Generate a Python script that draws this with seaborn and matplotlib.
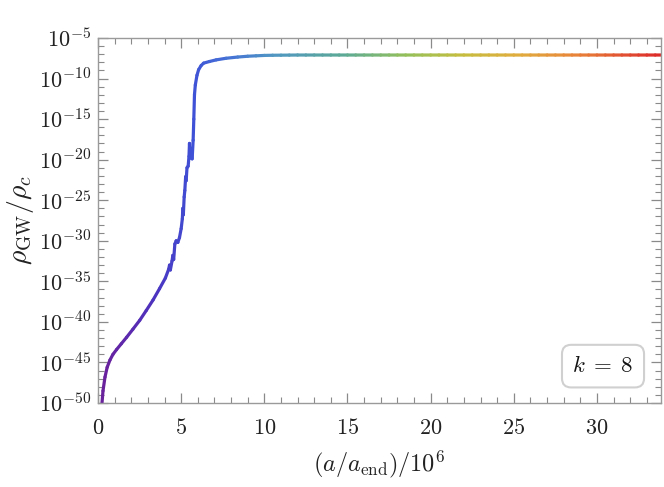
import numpy as np
import matplotlib
matplotlib.use("Agg")
import matplotlib.pyplot as plt
import seaborn as sns
from matplotlib.collections import LineCollection
from matplotlib.colors import LinearSegmentedColormap
from matplotlib.ticker import MultipleLocator, FuncFormatter

sns.set_theme(style="ticks")
plt.rcParams['mathtext.fontset'] = 'cm'
plt.rcParams['font.family'] = ['DejaVu Serif']

# scale factor (a/a_end)/10^6 and log10(rho_GW/rho_c)
a_scaled = [0.24, 0.30, 0.42, 0.55, 0.72, 0.90, 1.12, 1.40, 1.72, 2.10,
            2.51, 2.90, 3.31, 3.70, 4.05, 4.25, 4.30, 4.35, 4.45, 4.50,
            4.55, 4.62, 4.70, 4.80, 4.90, 5.00, 5.07, 5.10, 5.13, 5.18,
            5.22, 5.27, 5.30, 5.35, 5.42, 5.47, 5.50, 5.55, 5.60, 5.66,
            5.72, 5.76, 5.80, 5.85, 5.95, 6.05, 6.20, 6.35, 6.70, 7.10,
            7.70, 8.40, 9.0, 9.5, 10.0, 10.5, 11.0, 11.5, 12.0, 12.5,
            13.0, 13.5, 14.0, 14.5, 15.0, 15.5, 16.0, 16.5, 17.0, 17.5,
            18.0, 18.5, 19.0, 19.5, 20.0, 20.5, 21.0, 21.5, 22.0, 22.5,
            23.0, 23.5, 24.0, 24.5, 25.0, 25.5, 26.0, 26.5, 27.0, 27.5,
            28.0, 28.5, 29.0, 29.5, 30.0, 30.5, 31.0, 31.5, 32.0, 32.5,
            33.0, 33.5, 33.9]
log_rho = [-50.0, -48.5, -46.8, -45.6, -44.7, -44.0, -43.4, -42.7, -41.9, -40.9,
           -39.8, -38.6, -37.3, -35.9, -34.6, -33.5, -33.0, -33.6, -32.5, -31.8,
           -32.3, -30.4, -30.0, -30.2, -29.6, -28.5, -27.3, -26.0, -26.8, -24.6,
           -23.8, -22.1, -22.6, -21.0, -20.8, -19.6, -18.0, -19.8, -18.6, -19.9,
           -17.6, -15.0, -12.0, -10.8, -9.6, -8.9, -8.4, -8.1, -7.9, -7.7,
           -7.5, -7.35, -7.25, -7.2, -7.15, -7.13, -7.12, -7.11, -7.10, -7.10,
           -7.10, -7.10, -7.10, -7.10, -7.10, -7.10, -7.10, -7.10, -7.10, -7.10,
           -7.10, -7.10, -7.10, -7.10, -7.10, -7.10, -7.10, -7.10, -7.10, -7.10,
           -7.10, -7.10, -7.10, -7.10, -7.10, -7.10, -7.10, -7.10, -7.10, -7.10,
           -7.10, -7.10, -7.10, -7.10, -7.10, -7.10, -7.10, -7.10, -7.10, -7.10,
           -7.10, -7.10, -7.10]

x_max = 33.85

rainbow = LinearSegmentedColormap.from_list("rainbow_mma", [
    (0.00, "#6d1f99"), (0.10, "#4c33c0"), (0.17, "#3f52d6"),
    (0.23, "#4472d6"), (0.31, "#5096c4"), (0.44, "#5caa95"),
    (0.55, "#94c05a"), (0.65, "#c6bd3f"), (0.75, "#e0ac3e"),
    (0.85, "#e8853a"), (1.00, "#dd2b2b")])

fig, ax = plt.subplots(figsize=(6.64, 4.87), dpi=100)
fig.subplots_adjust(left=0.1476, right=0.9955, top=0.922, bottom=0.1725)

pts = np.column_stack([a_scaled, log_rho])
segs = np.stack([pts[:-1], pts[1:]], axis=1)
mids = (pts[:-1, 0] + pts[1:, 0]) / 2
lc = LineCollection(segs, colors=rainbow(mids / x_max), linewidths=2.3,
                    capstyle='round', joinstyle='round')
lc.set_snap(False)
ax.add_collection(lc)

ax.set_xlim(0, x_max)
ax.set_ylim(-50, -5)

ax.xaxis.set_major_locator(MultipleLocator(5))
ax.xaxis.set_minor_locator(MultipleLocator(1))
ax.yaxis.set_major_locator(MultipleLocator(5))
ax.yaxis.set_minor_locator(MultipleLocator(1))
ax.xaxis.set_major_formatter(FuncFormatter(lambda v, p: r"$%d$" % round(v)))
ax.yaxis.set_major_formatter(FuncFormatter(lambda v, p: r"$10^{%d}$" % round(v)))

ax.tick_params(which='both', direction='in', top=True, right=True,
               color='#8a8a8a', labelsize=16, labelcolor='#222222')
ax.tick_params(which='major', length=7, width=0.9)
ax.tick_params(axis='x', which='major', pad=10)
ax.tick_params(axis='y', which='major', pad=5)
ax.tick_params(which='minor', length=4, width=0.8)
for s in ax.spines.values():
    s.set_color('#9a9a9a')
    s.set_linewidth(1.0)

ax.set_xlabel(r"$(a/a_{\rm end})/10^6$", fontsize=17.5, color='#222222', labelpad=7)
ax.set_ylabel(r"$\rho_{\rm GW}/\rho_c$", fontsize=20, color='#222222', labelpad=2)

ax.text(0.897, 0.101, r"$k\;=\;8$", transform=ax.transAxes, fontsize=16.5,
        ha='center', va='center', color='#111111',
        bbox=dict(boxstyle='round,pad=0.45,rounding_size=0.4',
                  fc='white', ec='#d0d0d0', lw=1.5))

fig.savefig("out.png", dpi=100)
